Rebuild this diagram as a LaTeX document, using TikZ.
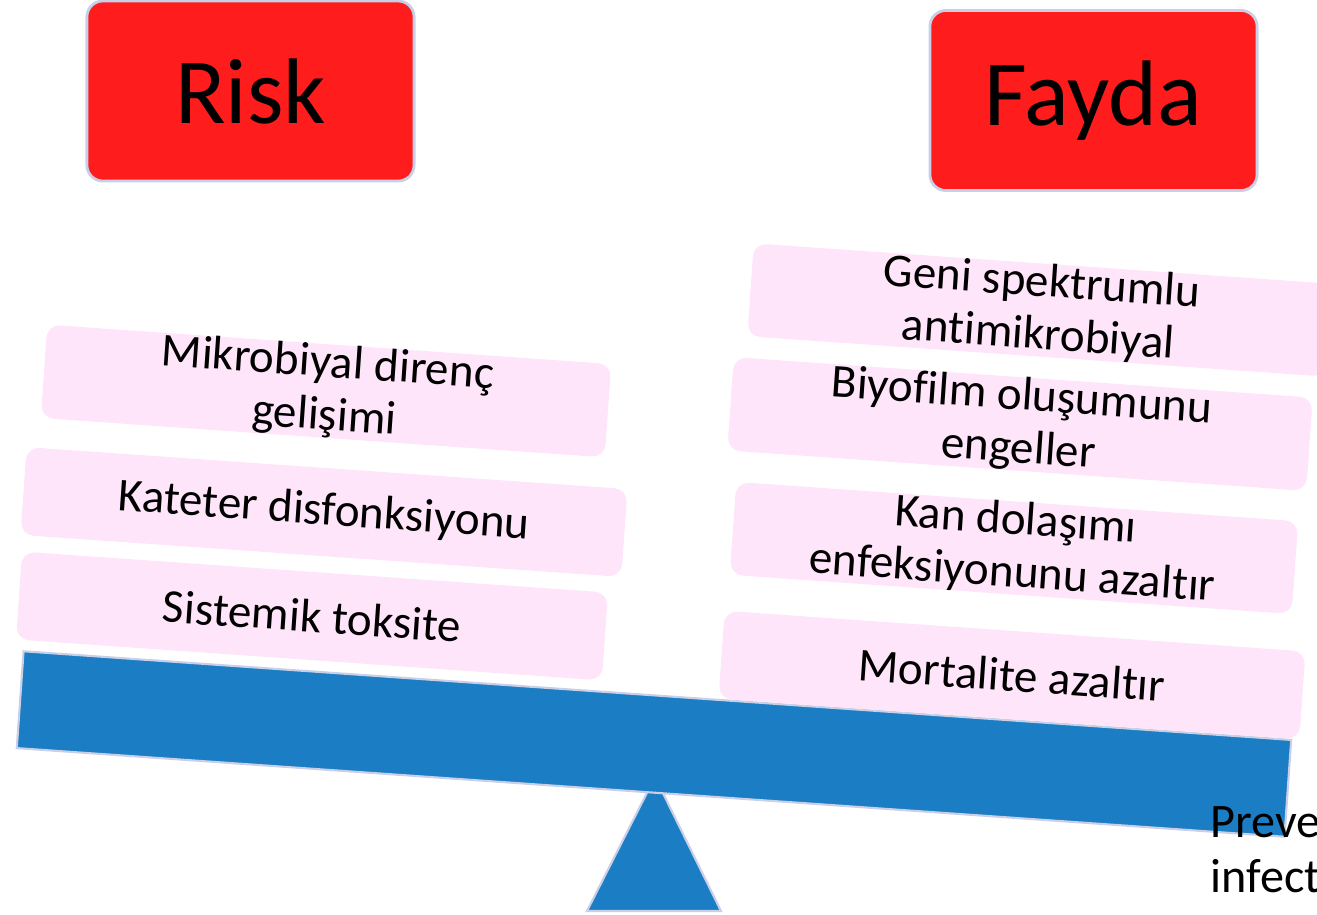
\documentclass[tikz,border=0pt]{standalone}
\usepackage{fontspec}
\setmainfont{Carlito}[Ligatures=CommonOff]
\definecolor{riskred}{HTML}{FF1C1C}
\definecolor{boxpink}{HTML}{FFE5FA}
\definecolor{beamblue}{HTML}{1B7DC4}
\definecolor{rimgray}{HTML}{C9CFE6}
\tikzset{
	head/.style={draw=rimgray, line width=0.8pt, fill=riskred, rounded corners=0.16cm, minimum width=3.27cm, minimum height=1.8cm, inner sep=0pt, font=\fontsize{26.5}{30}\selectfont},
	item/.style={fill=boxpink, rounded corners=0.13cm, rotate=-4, minimum height=0.88cm, align=center, inner sep=0pt, font=\fontsize{13.4}{15}\selectfont},
	beam/.style={draw=rimgray, line width=0.6pt, fill=beamblue, rotate=-4, minimum width=12.7cm, minimum height=0.97cm, inner sep=0pt}
}
\begin{document}
\begin{tikzpicture}[x=0.01cm,y=-0.01cm]
	\useasboundingbox (0,0) rectangle (1317,914);
	\clip (0,0) rectangle (1317,914);
	
	\node[head] (risk) at (250.5,91) {Risk};
	\node[head] (fayda) at (1093.5,100.5) {Fayda};
	
	\draw[draw=rimgray, fill=beamblue, line width=0.6pt] (587,911) -- (655,777) -- (721,911) -- cycle;
	\node[beam] (lever) at (654,744) {};
	
	\node[item, minimum width=5.65cm] (mikrobiyal) at (326,391) {Mikrobiyal direnç\\gelişimi};
	\node[item, minimum width=6.02cm] (kateter) at (324,512) {Kateter disfonksiyonu};
	\node[item, minimum width=5.87cm] (sistemik) at (312,616) {Sistemik toksite};
	
	\node[item, minimum width=5.80cm] (geni) at (1040,310) {Geni spektrumlu\\antimikrobiyal};
	\node[item, minimum width=5.80cm] (biyofilm) at (1020,424) {Biyofilm oluşumunu\\engeller};
	\node[item, minimum width=5.63cm] (kan) at (1014,548) {Kan dolaşımı\\enfeksiyonunu azaltır};
	\node[item, minimum width=5.82cm] (mortalite) at (1012,675) {Mortalite azaltır};
	
	\node[anchor=north west, align=left, inner sep=0pt, font=\fontsize{13.7}{15.6}\selectfont] (preve) at (1210,806) {Preve\\infect};
\end{tikzpicture}
\end{document}
